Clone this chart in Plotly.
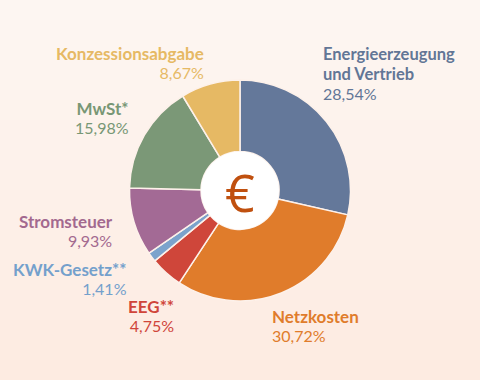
import plotly.graph_objects as go

names = ["Energieerzeugung", "Netzkosten", "EEG**", "KWK-Gesetz**",
         "Stromsteuer", "MwSt*", "Konzessionsabgabe"]
name_lines = [["Energieerzeugung", "und Vertrieb"], ["Netzkosten"], ["EEG**"], ["KWK-Gesetz**"],
              ["Stromsteuer"], ["MwSt*"], ["Konzessionsabgabe"]]
values = [28.54, 30.72, 4.75, 1.41, 9.93, 15.98, 8.67]
pct_text = ["28,54%", "30,72%", "4,75%", "1,41%", "9,93%", "15,98%", "8,67%"]
colors = ["#64789a", "#e07c2b", "#cf463a", "#7ba3cc", "#a36a95", "#7b9877", "#e6b964"]
label_colors = ["#627696", "#e07c2b", "#d0453a", "#74a0cc", "#a3698f", "#789775", "#e6b964"]

W, H = 480, 380
CX, CY, R, RH = 240, 190.5, 110.5, 39

# label block placement: (x px, block centre y px, anchor)
label_pos = [(321, 71.5, "left"), (270, 323.5, "left"), (176, 313.75, "right"),
             (129, 276.75, "right"), (115, 228.75, "right"), (131, 116, "right"),
             (206, 61.5, "right")]

fig = go.Figure()
fig.add_trace(go.Pie(
    values=values, labels=names, sort=False, direction="clockwise", rotation=0,
    hole=RH / R, textinfo="none", hoverinfo="label+value",
    marker=dict(colors=colors, line=dict(color="#fdf1ea", width=1.5)),
    domain=dict(x=[(CX - R) / W, (CX + R) / W], y=[(H - CY - R) / H, (H - CY + R) / H]),
    showlegend=False,
))
# white centre disc
fig.add_trace(go.Pie(
    values=[1], labels=["€"], sort=False, textinfo="none", hoverinfo="skip",
    marker=dict(colors=["#ffffff"], line=dict(width=0)),
    domain=dict(x=[(CX - RH) / W, (CX + RH) / W], y=[(H - CY - RH) / H, (H - CY + RH) / H]),
    showlegend=False,
))

shapes = []
top = (253, 246, 242)
bot = (253, 235, 225)
n = 38
for i in range(n):
    t = i / (n - 1)
    c = tuple(round(top[k] + (bot[k] - top[k]) * t) for k in range(3))
    shapes.append(dict(type="rect", xref="paper", yref="paper", layer="below",
                       x0=0, x1=1, y0=1 - (i + 1) / n, y1=1 - i / n,
                       fillcolor="rgb(%d,%d,%d)" % c, line=dict(width=0)))

annotations = []
for nl, pct, col, (x, y, al) in zip(name_lines, pct_text, label_colors, label_pos):
    multi = len(nl) > 1
    bsize = 16.5 if multi else 17
    parts = ['<span style="font-size:%gpx"><b>%s</b></span>' % (bsize, s) for s in nl]
    parts.append('<span style="font-size:16px">%s</span>' % pct)
    annotations.append(dict(
        x=x / W, y=1 - (y + 1.5) / H, xref="paper", yref="paper", xanchor=al, yanchor="middle",
        align=al, text="<br>".join(parts), showarrow=False,
        font=dict(family="Lato", size=15.5 if multi else 14.5, color=col),
    ))

annotations.append(dict(x=CX / W, y=1 - 191 / H, xref="paper", yref="paper",
                        xanchor="center", yanchor="middle", text="€", showarrow=False,
                        font=dict(family="Open Sans", size=52, color="#c0500f")))

fig.update_layout(
    width=W, height=H, margin=dict(l=0, r=0, t=0, b=0),
    paper_bgcolor="#fdf1ea", plot_bgcolor="#fdf1ea",
    shapes=shapes, annotations=annotations,
)
fig.write_html("out.html", config={"displayModeBar": False},
               post_script="document.body.style.margin='0';document.body.style.overflow='hidden';")
